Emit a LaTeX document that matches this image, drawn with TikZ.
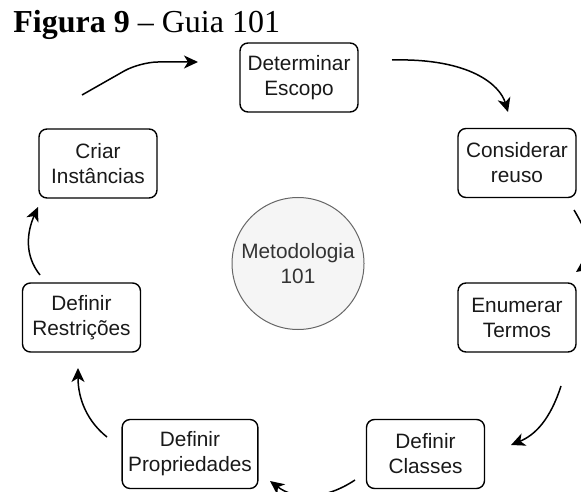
\documentclass[tikz,border=0pt]{standalone}
\usepackage{fontspec}
\setmainfont{Liberation Serif}
\setsansfont{Liberation Sans}
\usepackage{xcolor}
\usetikzlibrary{arrows.meta,positioning}

\definecolor{circfill}{HTML}{F5F5F5}
\definecolor{circline}{HTML}{666666}
\definecolor{circtext}{HTML}{333333}

\begin{document}
\begin{tikzpicture}[
  x=0.5pt, y=-0.5pt,
  >={Stealth[length=7pt, width=6.5pt, inset=2pt]},
  stepbox/.style={draw, rounded corners=4pt, line width=0.7pt, align=center,
               minimum width=59pt, minimum height=34.5pt, inner xsep=3pt,
               font=\sffamily\fontsize{10.4}{12.5}\selectfont, text=black!90},
  hub/.style={circle, draw=circline, fill=circfill, line width=0.5pt,
              minimum size=66pt, inner sep=0pt, align=center,
              font=\sffamily\fontsize{10.4}{12.5}\selectfont, text=circtext},
  flow/.style={->, line width=0.75pt},
]

\useasboundingbox (0,0) rectangle (581,491);
\clip (0,0) rectangle (581,491);

% === Title ===
\node[font=\fontsize{16}{18}\selectfont, anchor=base west, inner sep=0pt] (title)
  at (13,33) {\textbf{Figura 9} -- Guia 101};

% === Centre ===
\node[hub] (hub) at (298,263.5) {Metodologia\\101};

% === Steps ===
\foreach \name/\x/\y/\txt in {det/299/77.5/{Determinar\\Escopo},
                             cons/517/163/{Considerar\\reuso},
                             enum/517/317.5/{Enumerar\\Termos},
                             cls/425.5/454/{Definir\\Classes},
                             prop/190/454/{Definir\\Propriedades},
                             restr/81.5/317.5/{Definir\\Restrições},
                             inst/98/163.5/{Criar\\Instâncias}} {
  \node[stepbox] (\name) at (\x,\y) {\txt};
}

% === Arrow ends ===
\coordinate (a1s) at (82,95);   \coordinate (a1e) at (198,62);
\coordinate (a2s) at (392,60);  \coordinate (a2e) at (508,112);
\coordinate (a3s) at (574,210); \coordinate (a3e) at (576,272);
\coordinate (a4s) at (561,386); \coordinate (a4e) at (511,445);
\coordinate (a5s) at (355,480); \coordinate (a5e) at (270,481);
\coordinate (a6s) at (107,437); \coordinate (a6e) at (78,368);
\coordinate (a7s) at (40,275);  \coordinate (a7e) at (38,207);

% === Cycle ===
\draw[flow, rounded corners=9pt] (a1s) -- (140,62) -- (a1e);
\draw[flow] (a2s) .. controls (470,58) and (500,85) .. (a2e);
\draw[flow] (a3s) .. controls (598,250) and (590,262) .. (a3e);
\draw[flow] (a4s) .. controls (550,420) and (535,435) .. (a4e);
\draw[flow] (a5s) .. controls (325,500) and (295,500) .. (a5e);
\draw[flow] (a6s) .. controls (88,422) and (78,400) .. (a6e);
\draw[flow] (a7s) .. controls (24,255) and (27,232) .. (a7e);

\end{tikzpicture}
\end{document}
